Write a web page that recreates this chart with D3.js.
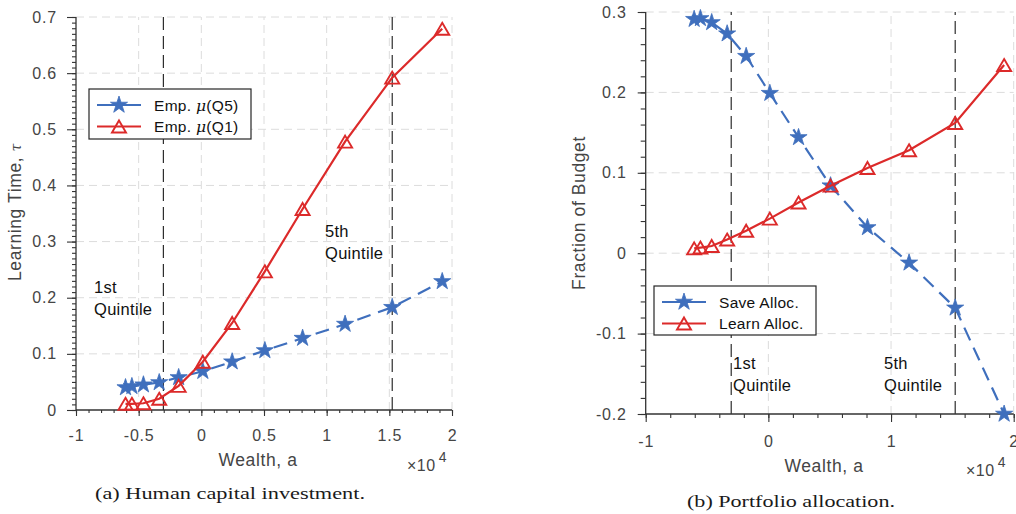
<!DOCTYPE html>
<html>
<head>
<meta charset="utf-8">
<script src="https://cdn.jsdelivr.net/npm/d3@7"></script>
<style>
  body { margin: 0; background: #fff; }
  text { font-family: "Liberation Sans", Arial, Helvetica, sans-serif; }
</style>
</head>
<body>
<svg id="fig" width="1016" height="514"></svg>
<script>
// Wealth grid points (same for both panels)
const wealth = [-6050, -5540, -4620, -3360, -1810, 120, 2460, 5070, 8080, 11470, 15230, 19220];

// Panel (a): learning time
const learnTimeQ5 = [0.040, 0.042, 0.045, 0.049, 0.058, 0.069, 0.086, 0.106, 0.128, 0.153, 0.183, 0.229];
const learnTimeQ1 = [0.011, 0.011, 0.012, 0.020, 0.043, 0.086, 0.155, 0.247, 0.358, 0.478, 0.592, 0.679];

// Panel (b): budget shares
const saveAlloc  = [0.291, 0.292, 0.287, 0.273, 0.245, 0.199, 0.144, 0.084, 0.032, -0.012, -0.068, -0.200];
const learnAlloc = [0.006, 0.007, 0.009, 0.017, 0.028, 0.043, 0.063, 0.084, 0.106, 0.128, 0.162, 0.234];

// Quintile boundaries
const quintileCuts = [-3030, 15230];

// Tick values and labels
const xTicksA = [-10000, -5000, 0, 5000, 10000, 15000, 20000];
const xTickLabelsA = ["-1", "-0.5", "0", "0.5", "1", "1.5", "2"];
const yTicksA = [0, 0.1, 0.2, 0.3, 0.4, 0.5, 0.6, 0.7];
const yTickLabelsA = ["0", "0.1", "0.2", "0.3", "0.4", "0.5", "0.6", "0.7"];
const xTicksB = [-10000, 0, 10000, 20000];
const xTickLabelsB = ["-1", "0", "1", "2"];
const yTicksB = [-0.2, -0.1, 0, 0.1, 0.2, 0.3];
const yTickLabelsB = ["-0.2", "-0.1", "0", "0.1", "0.2", "0.3"];

const BLUE = "#3f6fbd";
const RED = "#dc2a2a";
const AXIS = "#333333";
const TICKTXT = "#454545";
const GRID = "#dcdcdc";

const svg = d3.select("#fig");

function starPath(R) {
  const r = R * 0.382;
  const pts = [];
  for (let i = 0; i < 10; i++) {
    const rad = i % 2 === 0 ? R : r;
    const a = -Math.PI / 2 + i * Math.PI / 5;
    pts.push([rad * Math.cos(a), rad * Math.sin(a)]);
  }
  return "M" + pts.map(p => p[0].toFixed(2) + "," + p[1].toFixed(2)).join("L") + "Z";
}
function triPath(w, h) {
  return `M0,${-h / 2}L${w / 2},${h / 2}L${-w / 2},${h / 2}Z`;
}
const STAR = starPath(9);
const TRI = triPath(14, 12);

function drawPanel(cfg) {
  const g = svg.append("g");
  const x = d3.scaleLinear().domain([-10000, 20000]).range([cfg.left, cfg.right]);
  const y = d3.scaleLinear().domain(cfg.yDomain).range([cfg.bottom, cfg.top]);

  // grid
  const grid = g.append("g").attr("stroke", GRID).attr("stroke-width", 1)
    .attr("stroke-dasharray", "8,5").attr("fill", "none");
  cfg.xTicks.filter(v => v > -10000).forEach(v => {
    grid.append("line").attr("x1", x(v)).attr("x2", x(v)).attr("y1", cfg.bottom).attr("y2", cfg.top);
  });
  cfg.yTicks.filter(v => v > cfg.yDomain[0]).forEach(v => {
    grid.append("line").attr("x1", cfg.left).attr("x2", cfg.right).attr("y1", y(v)).attr("y2", y(v));
  });

  // quintile boundaries
  quintileCuts.forEach(c => {
    g.append("line").attr("x1", x(c)).attr("x2", x(c)).attr("y1", cfg.bottom).attr("y2", cfg.top)
      .attr("stroke", "#1a1a1a").attr("stroke-width", 1.1).attr("stroke-dasharray", "13,6");
  });

  // axes
  const xAxis = d3.axisBottom(x).tickValues(cfg.xTicks)
    .tickFormat((d, i) => cfg.xTickLabels[i]).tickSize(cfg.xTickLen).tickPadding(cfg.xPad);
  const xMinor = d3.axisBottom(x).tickValues(d3.range(-10000, 20001, cfg.xMinorStep))
    .tickFormat("").tickSize(cfg.xMinorLen);
  const yAxis = d3.axisLeft(y).tickValues(cfg.yTicks)
    .tickFormat((d, i) => cfg.yTickLabels[i]).tickSize(cfg.yTickLen).tickPadding(cfg.yPad);
  const yMinorVals = d3.range(Math.round(cfg.yDomain[0] / cfg.yMinorStep), Math.round(cfg.yDomain[1] / cfg.yMinorStep) + 1)
    .map(k => k * cfg.yMinorStep);
  const yMinor = d3.axisLeft(y).tickValues(yMinorVals).tickFormat("").tickSize(cfg.yMinorLen);

  const styleAxis = sel => {
    sel.select(".domain").attr("stroke", AXIS).attr("stroke-width", 1.3);
    sel.selectAll(".tick line").attr("stroke", AXIS).attr("stroke-width", 1.1);
    sel.selectAll("text").attr("fill", TICKTXT).style("font-size", "16px")
      .style("letter-spacing", "0.8px")
      .style("font-family", '"Liberation Sans", Arial, sans-serif');
  };
  g.append("g").attr("transform", `translate(0,${cfg.bottom})`).call(xMinor).call(styleAxis)
    .select(".domain").remove();
  g.append("g").attr("transform", `translate(${cfg.left},0)`).call(yMinor).call(styleAxis)
    .select(".domain").remove();
  const gx = g.append("g").attr("transform", `translate(0,${cfg.bottom})`).call(xAxis).call(styleAxis);
  gx.select(".domain").attr("d", `M${cfg.left},0H${cfg.right}`);
  const gy = g.append("g").attr("transform", `translate(${cfg.left},0)`).call(yAxis).call(styleAxis);
  gy.select(".domain").attr("d", `M0,${cfg.bottom}V${cfg.top}`);

  // series
  cfg.series.forEach(s => {
    const pts = wealth.map((w, i) => [w, s.values[i]]);
    g.append("path").datum(pts)
      .attr("d", d3.line().x(d => x(d[0])).y(d => y(d[1])))
      .attr("fill", "none").attr("stroke", s.color).attr("stroke-width", 2.2)
      .attr("stroke-dasharray", s.dashed ? "14,8" : null);
    g.selectAll(null).data(pts).enter().append("path")
      .attr("transform", d => `translate(${x(d[0])},${y(d[1])})`)
      .attr("d", s.marker === "star" ? STAR : TRI)
      .attr("fill", s.marker === "star" ? s.color : "none")
      .attr("stroke", s.color).attr("stroke-width", s.marker === "star" ? 0.8 : 1.9);
  });

  // legend
  const L = cfg.legend;
  g.append("rect").attr("x", L.x).attr("y", L.y).attr("width", L.w).attr("height", L.h)
    .attr("fill", "#fff").attr("stroke", "#262626").attr("stroke-width", 1.2);
  cfg.series.forEach((s, i) => {
    const cy = L.y + 16 + i * 21.5;
    g.append("line").attr("x1", L.x + 8).attr("x2", L.x + 52).attr("y1", cy).attr("y2", cy)
      .attr("stroke", s.color).attr("stroke-width", 2.2);
    g.append("path").attr("transform", `translate(${L.x + 30},${cy})`)
      .attr("d", s.marker === "star" ? STAR : TRI)
      .attr("fill", s.marker === "star" ? s.color : "none")
      .attr("stroke", s.color).attr("stroke-width", s.marker === "star" ? 0.8 : 1.9);
    const t = g.append("text").attr("x", L.x + 65).attr("y", cy + 5.5)
      .attr("fill", "#111").style("font-size", "15.5px").style("letter-spacing", "0.3px");
    s.label.forEach(part => {
      t.append("tspan").text(part.t).style("font-style", part.italic ? "italic" : null)
        .style("font-family", part.italic ? '"DejaVu Serif", serif' : null);
    });
  });

  // quintile annotations
  cfg.notes.forEach(n => {
    const t = g.append("text").attr("x", n.x).attr("y", n.y).attr("fill", "#111")
      .style("font-size", "16.5px").style("letter-spacing", "0.3px");
    t.append("tspan").attr("x", n.x).text(n.lines[0]);
    t.append("tspan").attr("x", n.x).attr("dy", 21.5).text(n.lines[1]);
  });

  // axis titles
  g.append("text").attr("x", cfg.xTitle.x).attr("y", cfg.xTitle.y).attr("text-anchor", "middle")
    .attr("fill", TICKTXT).style("font-size", "17.5px").style("letter-spacing", "0.6px").text("Wealth, a");
  const yt = g.append("text").attr("transform", `translate(${cfg.yTitle.x},${cfg.yTitle.y}) rotate(-90)`)
    .attr("text-anchor", "middle").attr("fill", TICKTXT).style("font-size", "17.5px")
    .style("letter-spacing", "0.6px");
  cfg.yTitle.parts.forEach(p => {
    yt.append("tspan").text(p.t).style("font-style", p.italic ? "italic" : null)
      .style("font-family", p.italic ? '"DejaVu Serif", serif' : null)
      .style("font-size", p.italic ? "14px" : null);
  });
  const ex = g.append("text").attr("x", cfg.expo.x).attr("y", cfg.expo.y).attr("fill", TICKTXT)
    .style("font-size", "16px").style("letter-spacing", "0.5px");
  ex.append("tspan").text("\u00d710");
  ex.append("tspan").attr("dx", 3).attr("dy", -9).style("font-size", "14px").text("4");

  // caption
  svg.append("text").attr("x", cfg.caption.x).attr("y", cfg.caption.y)
    .attr("textLength", cfg.caption.len).attr("lengthAdjust", "spacingAndGlyphs")
    .style("font-family", '"Liberation Serif", "DejaVu Serif", serif').style("font-size", "16px")
    .attr("fill", "#1a1a1a").text(cfg.caption.text);
}

drawPanel({
  left: 76, right: 452, top: 17, bottom: 410,
  yDomain: [0, 0.7],
  xTicks: xTicksA, xTickLabels: xTickLabelsA, xMinorStep: 1000,
  yTicks: yTicksA, yTickLabels: yTickLabelsA, yMinorStep: 0.01,
  xTickLen: 6, xMinorLen: 3, yTickLen: 9, yMinorLen: 4, xPad: 14, yPad: 10,
  series: [
    { values: learnTimeQ5, color: BLUE, marker: "star", dashed: true,
      label: [{ t: "Emp.  " }, { t: "\u03bc", italic: true }, { t: "(Q5)" }] },
    { values: learnTimeQ1, color: RED, marker: "tri", dashed: false,
      label: [{ t: "Emp.  " }, { t: "\u03bc", italic: true }, { t: "(Q1)" }] }
  ],
  legend: { x: 89, y: 89, w: 162, h: 50 },
  notes: [
    { x: 94, y: 293, lines: ["1st", "Quintile"] },
    { x: 325, y: 237, lines: ["5th", "Quintile"] }
  ],
  xTitle: { x: 258, y: 466 },
  yTitle: { x: 21, y: 212, parts: [{ t: "Learning Time,    " }, { t: "\u03c4", italic: true }] },
  expo: { x: 407, y: 471 },
  caption: { x: 95, y: 499, len: 270, text: "(a) Human capital investment." }
});

drawPanel({
  left: 645.7, right: 1013.7, top: 12, bottom: 414,
  yDomain: [-0.2, 0.3],
  xTicks: xTicksB, xTickLabels: xTickLabelsB, xMinorStep: 2000,
  yTicks: yTicksB, yTickLabels: yTickLabelsB, yMinorStep: 0.02,
  xTickLen: 8, xMinorLen: 4, yTickLen: 8, yMinorLen: 5, xPad: 14, yPad: 11,
  series: [
    { values: saveAlloc, color: BLUE, marker: "star", dashed: true,
      label: [{ t: "Save Alloc." }] },
    { values: learnAlloc, color: RED, marker: "tri", dashed: false,
      label: [{ t: "Learn Alloc." }] }
  ],
  legend: { x: 654, y: 286, w: 162, h: 49 },
  notes: [
    { x: 733, y: 369, lines: ["1st", "Quintile"] },
    { x: 884, y: 369, lines: ["5th", "Quintile"] }
  ],
  xTitle: { x: 824, y: 472 },
  yTitle: { x: 585, y: 213, parts: [{ t: "Fraction of Budget" }] },
  expo: { x: 966, y: 476 },
  caption: { x: 687, y: 507, len: 208, text: "(b) Portfolio allocation." }
});
</script>
</body>
</html>
